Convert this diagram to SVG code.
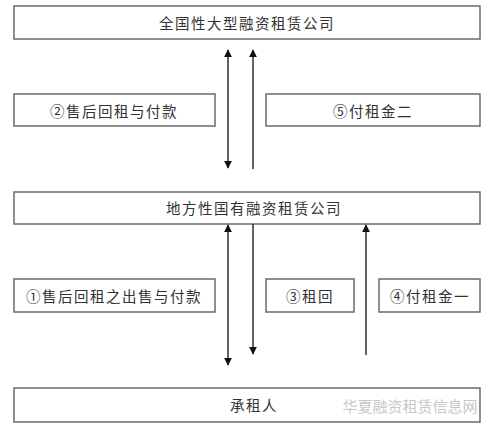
<svg xmlns="http://www.w3.org/2000/svg" width="501" height="431" viewBox="0 0 501 431">
<style>
.box{fill:#fff;stroke:#6a6a6a;stroke-width:1.5}
.t{font-family:"Noto Sans CJK SC","Noto Sans",sans-serif;font-size:14.5px;fill:#333;text-anchor:middle;dominant-baseline:central;letter-spacing:1.5px}
.c{stroke:#222;stroke-width:1.4;fill:none}
</style>
<defs>
<marker id="ah" viewBox="0 0 10 10" refX="9" refY="5" markerWidth="8" markerHeight="8" markerUnits="userSpaceOnUse" orient="auto-start-reverse">
<path d="M0,0 L10,5 L0,10 z" fill="#111"/>
</marker>
</defs>
<rect width="501" height="431" fill="#fff"/>
<g id="n-national"><rect class="box" x="14" y="6" width="466" height="33"/><text class="t" x="247" y="22.5">全国性大型融资租赁公司</text></g>
<g id="n-step2"><rect class="box" x="14" y="94" width="201" height="32"/><text class="t" x="114" y="110">②售后回租与付款</text></g>
<g id="n-step5"><rect class="box" x="266" y="94" width="214" height="32"/><text class="t" x="373" y="110">⑤付租金二</text></g>
<g id="n-local"><rect class="box" x="14" y="192" width="466" height="32"/><text class="t" x="254" y="207">地方性国有融资租赁公司</text></g>
<g id="n-step1"><rect class="box" x="14" y="279" width="201" height="33"/><text class="t" x="114" y="295">①售后回租之出售与付款</text></g>
<g id="n-step3"><rect class="box" x="266" y="279" width="88" height="33"/><text class="t" x="310" y="295">③租回</text></g>
<g id="n-step4"><rect class="box" x="379" y="279" width="101" height="33"/><text class="t" x="430" y="295">④付租金一</text></g>
<g id="n-lessee"><rect class="box" x="14" y="388" width="466" height="34"/><text class="t" x="254" y="404">承租人</text></g>
<g id="connectors">
<line class="c" x1="228" y1="50" x2="228" y2="168" marker-start="url(#ah)" marker-end="url(#ah)"/>
<line class="c" x1="253" y1="169" x2="253" y2="50" marker-end="url(#ah)"/>
<line class="c" x1="228" y1="225" x2="228" y2="365" marker-start="url(#ah)" marker-end="url(#ah)"/>
<line class="c" x1="253" y1="224" x2="253" y2="354" marker-end="url(#ah)"/>
<line class="c" x1="366" y1="355" x2="366" y2="225" marker-end="url(#ah)"/>
</g>
<text x="410" y="405" font-family="Noto Sans CJK SC,sans-serif" font-size="15" fill="#c8c8c8" text-anchor="middle" dominant-baseline="central">华夏融资租赁信息网</text>
</svg>
